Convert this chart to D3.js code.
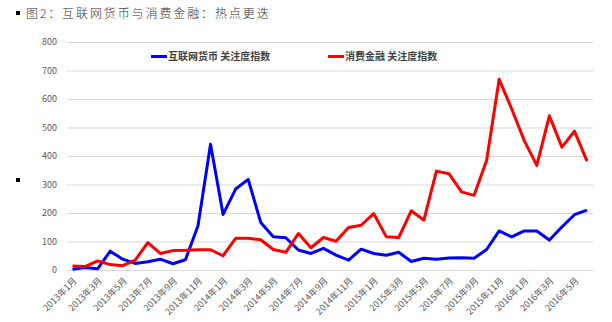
<!DOCTYPE html>
<html><head><meta charset="utf-8">
<script src="https://cdn.jsdelivr.net/npm/d3@7"></script>
<style>body{margin:0;background:#fff}svg{display:block}</style>
</head><body>
<script>
const months = [];
for (let y = 2013; y <= 2016; y++) for (let m = 1; m <= 12; m++) { if (y === 2016 && m > 6) break; months.push(y + "年" + m + "月"); }
const internetMoney = [3,9,4,66,38,23,29,38,22,36,155,441,195,284,318,167,117,113,70,58,76,52,35,73,58,52,62,30,41,38,42,43,41,72,137,116,137,137,105,151,194,210];
const consumerFinance = [14,12,32,19,15,35,96,58,68,69,71,71,50,111,111,106,72,62,128,78,114,101,149,157,198,117,114,208,175,347,338,274,262,384,669,565,454,367,541,431,487,382];
const yTicks = [0,100,200,300,400,500,600,700,800];
const seriesNames = ["互联网货币 关注度指数", "消费金融 关注度指数"];
const colors = ["#0000ff", "#ff0000"];
const tickLabels = months.filter((d, i) => i % 2 === 0);

const W = 612, H = 322;
const svg = d3.select("body").append("svg").attr("width", W).attr("height", H);
const font = "'Noto Sans CJK SC', 'Noto Sans', sans-serif";

const x = d3.scalePoint().domain(months).range([72.5, 587]);
const y = d3.scaleLinear().domain([0, 800]).range([270, 42]);

// title
svg.append("rect").attr("x", 16).attr("y", 11).attr("width", 4).attr("height", 4).attr("fill", "#000");
svg.append("text").attr("x", 26).attr("y", 18).attr("font-family", font).attr("font-size", 12)
  .attr("font-weight", 300).attr("fill", "#333").attr("letter-spacing", 1.9).text("图2：互联网货币与消费金融：热点更迭");
svg.append("rect").attr("x", 16).attr("y", 178).attr("width", 4).attr("height", 4).attr("fill", "#000");

// grid
const yAxis = d3.axisLeft(y).tickValues(yTicks).tickSize(-(593 - 67)).tickPadding(10);
const gy = svg.append("g").attr("transform", "translate(67,0)").call(yAxis);
gy.select(".domain").remove();
gy.selectAll(".tick line").attr("stroke", "#d9d9d9").attr("stroke-width", 1);
gy.selectAll(".tick text").attr("font-family", font).attr("font-size", 9).attr("fill", "#595959");

// x axis labels
const xAxis = d3.axisBottom(x).tickValues(tickLabels).tickSize(0).tickPadding(0);
const gx = svg.append("g").attr("transform", "translate(0,277)").call(xAxis);
gx.select(".domain").remove();
gx.selectAll(".tick text").attr("font-family", font).attr("font-size", 9).attr("fill", "#595959")
  .attr("text-anchor", "end").attr("dy", "0.7em").attr("transform", "rotate(-45)");

// lines
const line = d3.line().x((d, i) => x(months[i])).y(d => y(d));
[internetMoney, consumerFinance].forEach((s, k) => {
  svg.append("path").datum(s).attr("d", line).attr("fill", "none")
    .attr("stroke", colors[k]).attr("stroke-width", 3).attr("stroke-linejoin", "round");
});

// legend
const legX = [151, 328];
seriesNames.forEach((n, k) => {
  svg.append("line").attr("x1", legX[k]).attr("x2", legX[k] + 16).attr("y1", 56.5).attr("y2", 56.5)
    .attr("stroke", colors[k]).attr("stroke-width", 3);
  svg.append("text").attr("x", legX[k] + 17).attr("y", 60).attr("font-family", font)
    .attr("font-size", 10).attr("font-weight", "bold").attr("fill", "#404040").text(n);
});
</script>
</body></html>
